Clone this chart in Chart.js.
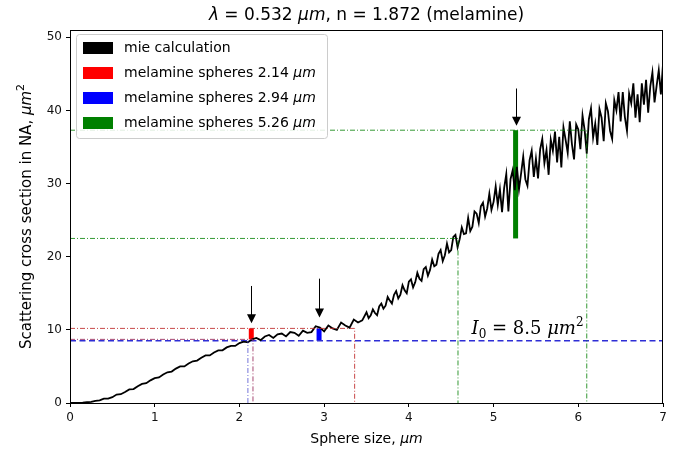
<!DOCTYPE html>
<html><head><meta charset="utf-8">
<script src="https://cdn.jsdelivr.net/npm/chart.js@4/dist/chart.umd.min.js"></script>
<style>html,body{margin:0;padding:0;background:#fff}#wrap{width:678px;height:457px;position:relative}</style>
</head><body><div id="wrap"><canvas id="c" width="678" height="457"></canvas></div>
<script>
// ---- data: mie calculation (sphere size in um, scattering cross section in um^2)
// part A: sizes 0 .. 3.5 step 0.05
const sigmaA = [
 0, 0.0, 0.02, 0.05, 0.1, 0.15, 0.3, 0.35, 0.6, 0.6,
 0.8, 1.15, 1.2, 1.5, 1.85, 1.9, 2.3, 2.6, 2.7, 3.1,
 3.4, 3.5, 3.9, 4.2, 4.3, 4.7, 5.0, 5.0, 5.4, 5.7,
 5.8, 6.2, 6.5, 6.5, 6.9, 7.2, 7.2, 7.6, 7.8, 7.8,
 8.2, 8.4, 8.3, 8.7, 8.9, 8.6, 9.1, 9.3, 8.9, 9.4,
 9.5, 9.1, 9.7, 9.6, 9.2, 9.9, 9.6, 9.7, 10.5, 10.3,
 9.8, 10.6, 10.2, 10.0, 11.0, 10.6, 10.3, 11.4, 11.0, 11.3,
 12.4
];
// part B: sizes 3.525 .. 7.0 step 0.025
const sigmaB = [
 11.6, 12.0, 12.8, 12.3, 12.0, 13.2, 13.6, 12.9, 13.3, 14.5,
 14.0, 13.6, 14.8, 15.3, 14.3, 14.8, 16.1, 15.4, 15.0, 16.6,
 16.9, 15.8, 16.5, 17.8, 17.0, 16.7, 18.3, 18.6, 17.4, 18.2,
 19.6, 18.7, 18.9, 20.4, 20.9, 19.4, 20.2, 21.8, 20.6, 20.9,
 22.7, 23.0, 21.3, 22.4, 24.0, 23.1, 23.2, 25.3, 23.5, 24.1,
 26.2, 25.9, 24.6, 26.9, 27.4, 25.5, 26.6, 28.6, 26.4, 27.5,
 29.6, 27.1, 29.2, 26.1, 29.4, 31.3, 26.2, 30.6, 31.8, 29.1,
 32.3, 29.2, 31.4, 33.7, 30.6, 29.7, 33.2, 34.5, 30.9, 33.4,
 30.7, 34.7, 36.1, 32.8, 34.6, 31.2, 36.0, 34.5, 37.1, 32.9,
 36.4, 32.2, 37.7, 36.0, 34.2, 38.5, 35.4, 33.3, 38.1, 37.4,
 34.7, 39.3, 37.3, 34.1, 38.8, 40.3, 36.3, 38.2, 35.3, 40.2,
 39.0, 35.8, 41.0, 39.9, 37.2, 36.1, 41.4, 40.0, 42.5, 38.5,
 42.5, 39.1, 37.2, 42.3, 41.0, 43.7, 39.0, 42.2, 38.4, 43.7,
 40.8, 44.2, 39.7, 43.3, 45.2, 41.1, 43.4, 45.5, 42.2, 46.3
];
const sizesA = sigmaA.map((_, i) => +(i * 0.05).toFixed(3));
const sizesB = sigmaB.map((_, i) => +(3.525 + i * 0.025).toFixed(3));

// measured sphere sizes and their cross-section ranges
const sampleLabels = ['melamine spheres 2.14 ', 'melamine spheres 2.94 ', 'melamine spheres 5.26 '];
const sampleSizes = [2.14, 2.94, 5.26];
const sampleLow = [8.7, 8.5, 22.5];
const sampleHigh = [10.2, 10.2, 37.3];

// reference intensity line
const I0 = 8.5;

// guide lines (dash-dot)
const redHiX = [0, 3.36, 3.36], redHiY = [10.2, 10.2, 0];
const redLoX = [0, 2.16, 2.16], redLoY = [8.7, 8.7, 0];
const blueGuideX = [2.1, 2.1], blueGuideY = [0, 8.5];
const greenHiX = [0, 6.1, 6.1], greenHiY = [37.3, 37.3, 0];
const greenLoX = [0, 4.58, 4.58], greenLoY = [22.5, 22.5, 0];

// arrows (x, start y, tip y)
const arrowX = [2.14, 2.94, 5.26];
const arrowTop = [16.0, 17.0, 43.0];
const arrowTip = [10.9, 11.7, 37.9];

const xTicks = [0, 1, 2, 3, 4, 5, 6, 7];
const yTicks = [0, 10, 20, 30, 40, 50];

// ---- build
const pts = (xs, ys) => xs.map((x, i) => ({x, y: ys[i]}));
const mie = pts(sizesA.concat(sizesB), sigmaA.concat(sigmaB));
const sampleColors = ['#ff0000', '#0000ff', '#008000'];

const dashDot = [5, 2, 1, 2];
const guide = (xs, ys, color) => ({data: pts(xs, ys), borderColor: color, borderWidth: 1, borderDash: dashDot, pointRadius: 0, fill: false, tension: 0, label: ''});

const datasets = [
  guide(redHiX, redHiY, 'rgba(190,40,40,0.85)'),
  guide(redLoX, redLoY, 'rgba(150,40,90,0.85)'),
  guide(blueGuideX, blueGuideY, 'rgba(60,60,200,0.7)'),
  guide(greenHiX, greenHiY, 'rgba(0,128,0,0.8)'),
  guide(greenLoX, greenLoY, 'rgba(0,128,0,0.8)'),
  {label: 'mie calculation', data: mie, borderColor: '#000', borderWidth: 1.8, pointRadius: 0, tension: 0, fill: false},
  {label: 'I0', data: [{x: 0, y: I0}, {x: 7, y: I0}], borderColor: '#2e2ed6', borderWidth: 1.5, borderDash: [6, 3.5], pointRadius: 0, fill: false}
];
sampleSizes.forEach((s, i) => {
  datasets.push({label: sampleLabels[i], data: [{x: s, y: sampleLow[i]}, {x: s, y: sampleHigh[i]}], borderColor: sampleColors[i], borderWidth: 5, borderCapStyle: 'butt', pointRadius: 0, fill: false});
});

function drawRich(ctx, parts, x, y, align) {
  let w = 0;
  parts.forEach(p => { ctx.font = p.font; w += ctx.measureText(p.t).width; });
  let cx = align === 'center' ? x - w / 2 : x;
  parts.forEach(p => {
    ctx.font = p.font;
    ctx.fillText(p.t, cx, y + (p.dy || 0));
    cx += ctx.measureText(p.t).width;
  });
}

const deco = {
  id: 'deco',
  afterDatasetsDraw(chart) {
    const {ctx, chartArea: a, scales: {x, y}} = chart;
    ctx.save();
    // frame
    ctx.strokeStyle = '#000'; ctx.lineWidth = 1;
    ctx.strokeRect(Math.round(a.left) + 0.5, Math.round(a.top) + 0.5, Math.round(a.right - a.left) - 1, Math.round(a.bottom - a.top));
    // arrows
    ctx.fillStyle = '#000';
    arrowX.forEach((ax, i) => {
      const px = Math.round(x.getPixelForValue(ax)) + 0.5;
      const y0 = y.getPixelForValue(arrowTop[i]);
      const yt = y.getPixelForValue(arrowTip[i]);
      ctx.beginPath(); ctx.moveTo(px, y0); ctx.lineTo(px, yt - 8); ctx.lineWidth = 1; ctx.stroke();
      ctx.beginPath(); ctx.moveTo(px - 4.5, yt - 9); ctx.lineTo(px + 4.5, yt - 9); ctx.lineTo(px, yt); ctx.closePath(); ctx.fill();
    });
    // I0 annotation
    ctx.fillStyle = '#000'; ctx.textBaseline = 'alphabetic';
    const tx = x.getPixelForValue(4.74), ty = y.getPixelForValue(I0) - 7;
    drawRich(ctx, [
      {t: 'I', font: 'italic 18px "DejaVu Serif"'},
      {t: '0', font: '12px "DejaVu Serif"', dy: 4},
      {t: ' = 8.5 ', font: '18px "DejaVu Serif"'},
      {t: 'μm', font: 'italic 18px "DejaVu Serif"'},
      {t: '2', font: '12px "DejaVu Serif"', dy: -8}
    ], tx, ty, 'left');
    // legend
    const lx = 76, ly = 34, lw = 251, lh = 104;
    ctx.fillStyle = 'rgba(255,255,255,0.85)'; ctx.strokeStyle = '#cccccc'; ctx.lineWidth = 1;
    ctx.beginPath(); ctx.roundRect(lx + 0.5, ly + 0.5, lw, lh, 3); ctx.fill(); ctx.stroke();
    const items = [{label: 'mie calculation', color: '#000', unit: false}].concat(sampleLabels.map((l, i) => ({label: l, color: sampleColors[i], unit: true})));
    items.forEach((it, i) => {
      const cy = 48 + i * 25;
      ctx.fillStyle = it.color; ctx.fillRect(83, cy - 6, 30, 12);
      ctx.fillStyle = '#000'; ctx.textBaseline = 'middle';
      const parts = [{t: it.label, font: '14px "DejaVu Sans"'}];
      if (it.unit) parts.push({t: 'μm', font: 'italic 14px "DejaVu Sans"'});
      drawRich(ctx, parts, 124, cy, 'left');
    });
    ctx.restore();
  },
  afterDraw(chart) {
    const {ctx, chartArea: a} = chart;
    ctx.save();
    ctx.fillStyle = '#000'; ctx.textBaseline = 'alphabetic';
    // title
    drawRich(ctx, [
      {t: 'λ', font: 'italic 17px "DejaVu Sans"'},
      {t: ' = 0.532 ', font: '17px "DejaVu Sans"'},
      {t: 'μm', font: 'italic 17px "DejaVu Sans"'},
      {t: ', n = 1.872 (melamine)', font: '17px "DejaVu Sans"'}
    ], (a.left + a.right) / 2, 20, 'center');
    // x label
    drawRich(ctx, [
      {t: 'Sphere size, ', font: '14px "DejaVu Sans"'},
      {t: 'μm', font: 'italic 14px "DejaVu Sans"'}
    ], (a.left + a.right) / 2, 443, 'center');
    // y label
    ctx.translate(31, (a.top + a.bottom) / 2);
    ctx.rotate(-Math.PI / 2);
    drawRich(ctx, [
      {t: 'Scattering cross section in NA, ', font: '15px "DejaVu Sans"'},
      {t: 'μm', font: 'italic 15px "DejaVu Sans"'},
      {t: '2', font: '11px "DejaVu Sans"', dy: -7}
    ], 0, 0, 'center');
    ctx.restore();
  }
};

const tickFont = {family: 'DejaVu Sans', size: 12};
new Chart(document.getElementById('c'), {
  type: 'line',
  data: {datasets},
  options: {
    responsive: false, animation: false, events: [],
    layout: {padding: {top: 30, right: 15, left: 0, bottom: 0}},
    scales: {
      x: {type: 'linear', min: 0, max: 7,
        afterBuildTicks(s) { s.ticks = xTicks.map(v => ({value: v})); },
        ticks: {color: '#111', font: tickFont, padding: 4, maxRotation: 0},
        grid: {display: true, drawOnChartArea: false, drawTicks: true, tickLength: 4, color: '#000'},
        border: {display: true, color: '#000'},
        afterFit(s) { s.height = 54; }},
      y: {type: 'linear', min: 0, max: 51,
        afterBuildTicks(s) { s.ticks = yTicks.map(v => ({value: v})); },
        ticks: {color: '#111', font: tickFont, padding: 4},
        grid: {display: true, drawOnChartArea: false, drawTicks: true, tickLength: 4, color: '#000'},
        border: {display: true, color: '#000'},
        afterFit(s) { s.width = 70; }}
    },
    plugins: {legend: {display: false}, tooltip: {enabled: false}, title: {display: false}}
  },
  plugins: [deco]
});
</script></body></html>
